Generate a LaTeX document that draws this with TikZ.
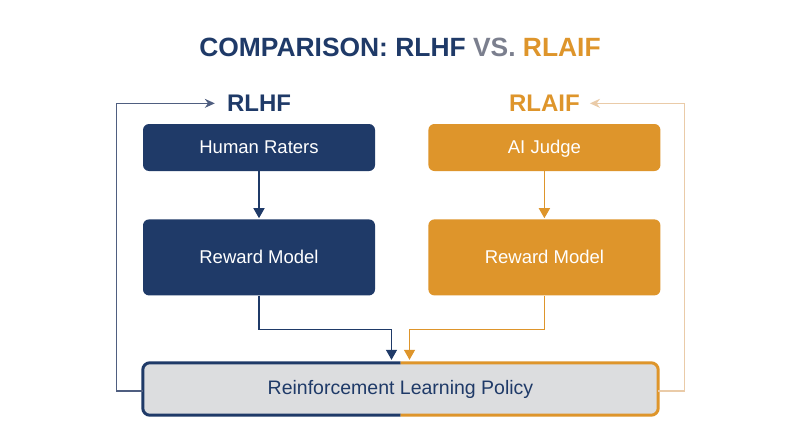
\documentclass[tikz,border=0pt]{standalone}
\usepackage{fontspec}
\setmainfont{Liberation Sans}
\usepackage{tikz}
\usetikzlibrary{positioning, arrows.meta}

\definecolor{navy}{HTML}{1F3A68}
\definecolor{amber}{HTML}{DE952B}
\definecolor{slate}{HTML}{7B7F8E}
\definecolor{policygray}{HTML}{DCDDDF}
\definecolor{tan}{HTML}{EACBA8}
\definecolor{navyline}{HTML}{4F5E80}

\begin{document}
\begin{tikzpicture}[
        x=1pt, y=-1pt,
        >={Triangle[length=10pt, width=11pt]},
        font=\fontsize{18.5}{22}\selectfont,
        blk/.style={
            rounded corners=6pt,
            text=white,
            align=center,
            text height=2.2ex,
            text depth=0pt,
            minimum width=232pt,
            minimum height=47pt
        },
        hdr/.style={font=\fontsize{24}{28}\selectfont\bfseries, inner sep=2pt},
        link/.style={->, line width=1.5pt, shorten >=1pt},
        loop/.style={-{Stealth[length=10pt, width=9pt]}, line width=1.3pt}
    ]
    \useasboundingbox[fill=white] (0,0) rectangle (800,447);

    \node[font=\fontsize{26.4}{30}\selectfont\bfseries] (title) at (400,47)
        {\textcolor{navy}{COMPARISON: RLHF} \textcolor{slate}{VS.} \textcolor{amber}{RLAIF}};

    % left column
    \node[blk, fill=navy] (HR) at (259,147.5) {Human Raters};
    \node[blk, fill=navy, minimum height=76pt, below=48pt of HR] (RMh) {Reward Model};
    \node[hdr, text=navy, above=10pt of HR] (RLHF) {RLHF};

    % right column
    \node[blk, fill=amber, right=53pt of HR] (AJ) {AI Judge};
    \node[blk, fill=amber, minimum height=76pt, below=48pt of AJ] (RMa) {Reward Model};
    \node[hdr, text=amber, above=10pt of AJ] (RLAIF) {RLAIF};

    % policy
    \node[fill=policygray, rounded corners=7pt, minimum width=515pt, minimum height=52pt,
          text=navy, font=\fontsize{19.5}{23}\selectfont] (P) at (400.5,389) {Reinforcement Learning Policy};
    \draw[navy, line width=3pt, rounded corners=7pt] (P.north) -| (P.west) |- (P.south);
    \draw[amber, line width=3pt, rounded corners=7pt] (P.north) -| (P.east) |- (P.south);

    \draw[link, navy] (HR) -- (RMh);
    \draw[link, amber] (AJ) -- (RMa);
    \draw[link, navy, line width=1.3pt, shorten >=3pt] (RMh.south) -- ++(0,34) -| ([xshift=-9pt]P.north);
    \draw[link, amber, line width=1.3pt, shorten >=3pt] (RMa.south) -- ++(0,34) -| ([xshift=9pt]P.north);

    % feedback loops
    \draw[loop, navyline] ([yshift=-2pt]P.west) -- ++(-26,0) |- ([xshift=-10pt]RLHF.west);
    \draw[loop, tan] ([yshift=-2pt]P.east) -- ++(26,0) |- ([xshift=8pt]RLAIF.east);
\end{tikzpicture}
\end{document}
